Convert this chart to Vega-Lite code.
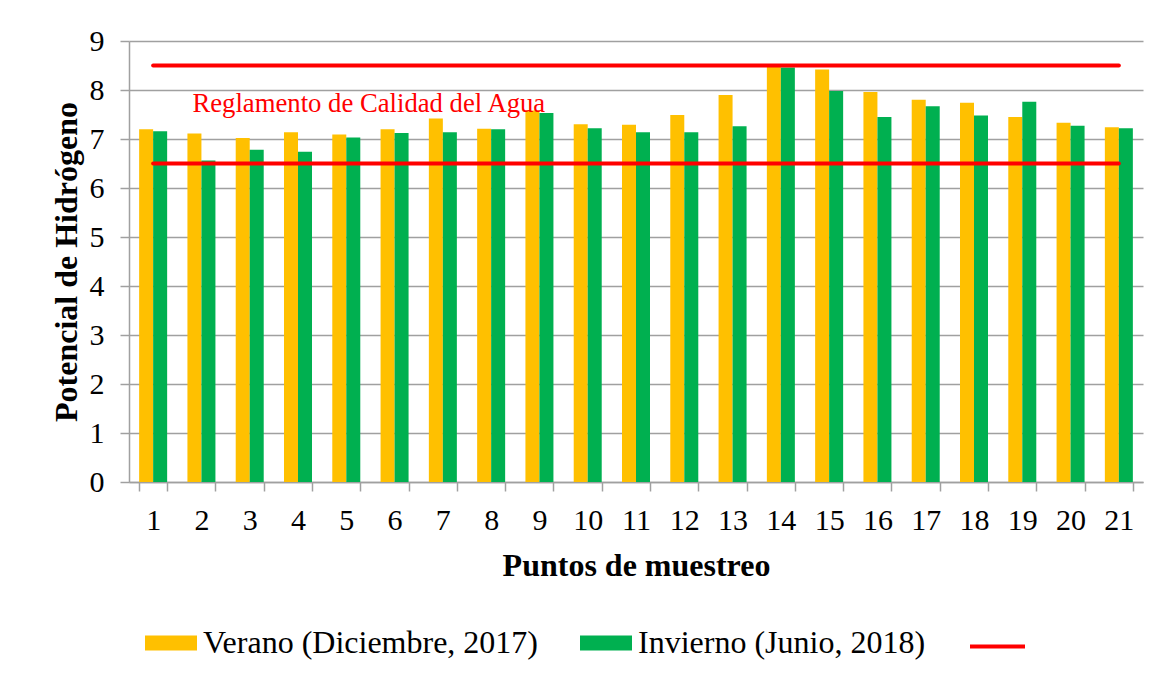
{
  "$schema": "https://vega.github.io/schema/vega-lite/v6.json",
  "width": 1014,
  "height": 441,
  "autosize": "none",
  "padding": {"left": 129, "top": 41, "right": 18, "bottom": 194},
  "background": "white",
  "config": {"view": {"stroke": null}, "font": "Liberation Serif"},
  "datasets": {
    "mediciones": [
      {"punto": 1, "serie": "Verano (Diciembre, 2017)", "pH": 7.20},
      {"punto": 1, "serie": "Invierno (Junio, 2018)", "pH": 7.16},
      {"punto": 2, "serie": "Verano (Diciembre, 2017)", "pH": 7.11},
      {"punto": 2, "serie": "Invierno (Junio, 2018)", "pH": 6.56},
      {"punto": 3, "serie": "Verano (Diciembre, 2017)", "pH": 7.02},
      {"punto": 3, "serie": "Invierno (Junio, 2018)", "pH": 6.78},
      {"punto": 4, "serie": "Verano (Diciembre, 2017)", "pH": 7.14},
      {"punto": 4, "serie": "Invierno (Junio, 2018)", "pH": 6.74},
      {"punto": 5, "serie": "Verano (Diciembre, 2017)", "pH": 7.09},
      {"punto": 5, "serie": "Invierno (Junio, 2018)", "pH": 7.03},
      {"punto": 6, "serie": "Verano (Diciembre, 2017)", "pH": 7.20},
      {"punto": 6, "serie": "Invierno (Junio, 2018)", "pH": 7.12},
      {"punto": 7, "serie": "Verano (Diciembre, 2017)", "pH": 7.42},
      {"punto": 7, "serie": "Invierno (Junio, 2018)", "pH": 7.14},
      {"punto": 8, "serie": "Verano (Diciembre, 2017)", "pH": 7.21},
      {"punto": 8, "serie": "Invierno (Junio, 2018)", "pH": 7.20},
      {"punto": 9, "serie": "Verano (Diciembre, 2017)", "pH": 7.58},
      {"punto": 9, "serie": "Invierno (Junio, 2018)", "pH": 7.53},
      {"punto": 10, "serie": "Verano (Diciembre, 2017)", "pH": 7.30},
      {"punto": 10, "serie": "Invierno (Junio, 2018)", "pH": 7.22},
      {"punto": 11, "serie": "Verano (Diciembre, 2017)", "pH": 7.29},
      {"punto": 11, "serie": "Invierno (Junio, 2018)", "pH": 7.14},
      {"punto": 12, "serie": "Verano (Diciembre, 2017)", "pH": 7.49},
      {"punto": 12, "serie": "Invierno (Junio, 2018)", "pH": 7.14},
      {"punto": 13, "serie": "Verano (Diciembre, 2017)", "pH": 7.90},
      {"punto": 13, "serie": "Invierno (Junio, 2018)", "pH": 7.26},
      {"punto": 14, "serie": "Verano (Diciembre, 2017)", "pH": 8.50},
      {"punto": 14, "serie": "Invierno (Junio, 2018)", "pH": 8.46},
      {"punto": 15, "serie": "Verano (Diciembre, 2017)", "pH": 8.42},
      {"punto": 15, "serie": "Invierno (Junio, 2018)", "pH": 7.98},
      {"punto": 16, "serie": "Verano (Diciembre, 2017)", "pH": 7.96},
      {"punto": 16, "serie": "Invierno (Junio, 2018)", "pH": 7.45},
      {"punto": 17, "serie": "Verano (Diciembre, 2017)", "pH": 7.80},
      {"punto": 17, "serie": "Invierno (Junio, 2018)", "pH": 7.67},
      {"punto": 18, "serie": "Verano (Diciembre, 2017)", "pH": 7.74},
      {"punto": 18, "serie": "Invierno (Junio, 2018)", "pH": 7.48},
      {"punto": 19, "serie": "Verano (Diciembre, 2017)", "pH": 7.45},
      {"punto": 19, "serie": "Invierno (Junio, 2018)", "pH": 7.76},
      {"punto": 20, "serie": "Verano (Diciembre, 2017)", "pH": 7.33},
      {"punto": 20, "serie": "Invierno (Junio, 2018)", "pH": 7.27},
      {"punto": 21, "serie": "Verano (Diciembre, 2017)", "pH": 7.24},
      {"punto": 21, "serie": "Invierno (Junio, 2018)", "pH": 7.22}
    ],
    "limites": [
      {"punto": 1, "limite": "min", "leyenda": "Reglamento", "pH": 6.5},
      {"punto": 21, "limite": "min", "leyenda": "Reglamento", "pH": 6.5},
      {"punto": 1, "limite": "max", "leyenda": "Reglamento", "pH": 8.5},
      {"punto": 21, "limite": "max", "leyenda": "Reglamento", "pH": 8.5}
    ],
    "anotacion": [
      {"punto": 2, "pH": 7.56, "texto": "Reglamento de Calidad del Agua"}
    ]
  },
  "layer": [
    {
      "data": {"name": "mediciones"},
      "mark": {"type": "bar"},
      "encoding": {
        "x": {
          "field": "punto",
          "type": "ordinal",
          "title": "Puntos de muestreo",
          "scale": {"paddingInner": 0.42, "paddingOuter": 0.21},
          "axis": {
            "tickBand": "extent",
            "labelAngle": 0,
            "grid": false,
            "domainColor": "#A0A0A0",
            "domainWidth": 1.5,
            "tickColor": "#A0A0A0",
            "tickWidth": 1.5,
            "tickSize": 9,
            "labelFont": "Liberation Serif",
            "labelFontSize": 30,
            "labelColor": "black",
            "labelPadding": 14,
            "titleFont": "Liberation Serif",
            "titleFontSize": 32,
            "titleFontWeight": "bold",
            "titleColor": "black",
            "titlePadding": 15
          }
        },
        "xOffset": {
          "field": "serie",
          "scale": {"domain": ["Verano (Diciembre, 2017)", "Invierno (Junio, 2018)"], "paddingInner": 0, "paddingOuter": 0}
        },
        "y": {
          "field": "pH",
          "type": "quantitative",
          "title": "Potencial de Hidrógeno",
          "scale": {"domain": [0, 9], "nice": false},
          "axis": {
            "values": [0, 1, 2, 3, 4, 5, 6, 7, 8, 9],
            "domainColor": "#A0A0A0",
            "domainWidth": 1.5,
            "tickColor": "#A0A0A0",
            "tickWidth": 1.5,
            "tickSize": 9,
            "gridColor": "#A0A0A0",
            "gridWidth": 1.5,
            "labelFont": "Liberation Serif",
            "labelFontSize": 30,
            "labelColor": "black",
            "labelPadding": 16,
            "titleFont": "Liberation Serif",
            "titleFontSize": 32,
            "titleFontWeight": "bold",
            "titleColor": "black",
            "titlePadding": 6
          }
        },
        "color": {
          "field": "serie",
          "type": "nominal",
          "scale": {"domain": ["Verano (Diciembre, 2017)", "Invierno (Junio, 2018)"], "range": ["#FFC000", "#00B050"]},
          "legend": {
            "orient": "none",
            "legendX": 16,
            "legendY": 576,
            "direction": "horizontal",
            "title": null,
            "symbolType": "M-1,-0.29H1V0.29H-1Z",
            "symbolSize": 2704,
            "symbolStrokeWidth": 0,
            "labelFont": "Liberation Serif",
            "labelFontSize": 32,
            "labelColor": "black",
            "labelOffset": 6,
            "labelLimit": 0,
            "columnPadding": 42,
            "padding": 0
          }
        }
      }
    },
    {
      "data": {"name": "limites"},
      "mark": {"type": "line", "strokeWidth": 4, "strokeCap": "round"},
      "encoding": {
        "x": {"field": "punto", "type": "ordinal"},
        "y": {"field": "pH", "type": "quantitative"},
        "detail": {"field": "limite"},
        "stroke": {
          "field": "leyenda",
          "type": "nominal",
          "scale": {"range": ["#FF0000"]},
          "legend": {
            "orient": "none",
            "legendX": 839,
            "legendY": 576,
            "title": null,
            "symbolType": "stroke",
            "symbolSize": 3025,
            "symbolStrokeWidth": 4,
            "labelExpr": "''",
            "labelFontSize": 32,
            "padding": 0
          }
        }
      }
    },
    {
      "data": {"name": "anotacion"},
      "mark": {"type": "text", "align": "left", "baseline": "alphabetic", "dx": -9, "color": "#FF0000", "font": "Liberation Serif", "fontSize": 26.7},
      "encoding": {
        "x": {"field": "punto", "type": "ordinal"},
        "y": {"field": "pH", "type": "quantitative"},
        "text": {"field": "texto"}
      }
    }
  ]
}
